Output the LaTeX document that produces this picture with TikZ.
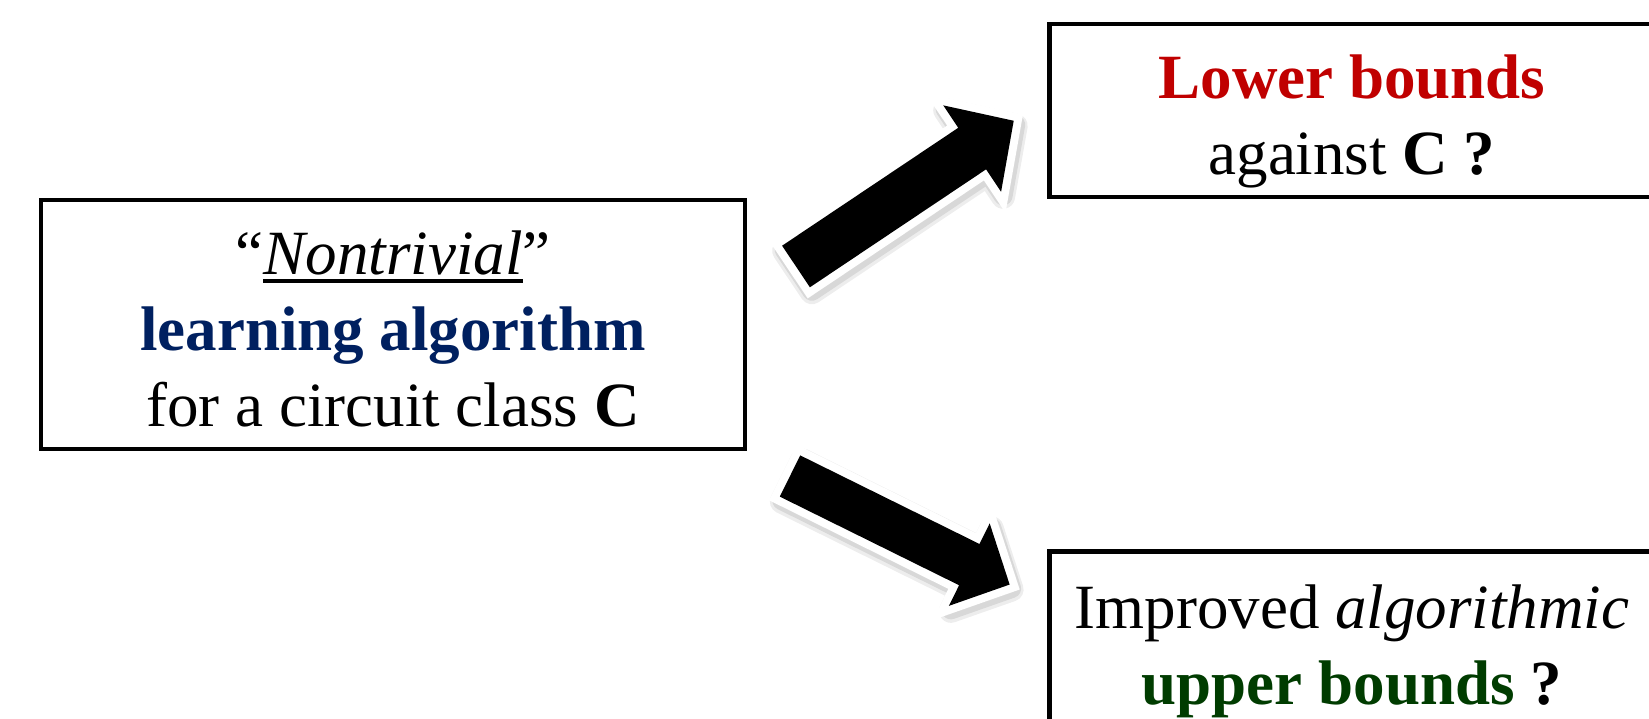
\documentclass[tikz,border=0pt]{standalone}
\usepackage{fontspec}
\setmainfont{Liberation Serif}
\usepackage{tikz}
\definecolor{lowred}{RGB}{192,0,0}
\definecolor{learnblue}{RGB}{0,32,96}
\definecolor{uppergreen}{RGB}{0,60,0}
\newcommand{\underword}[1]{\setbox0=\hbox{#1}\rlap{\rule[-9pt]{\wd0}{4pt}}\box0}

\begin{document}
\begin{tikzpicture}[x=1pt,y=-1pt,
  panel/.style={draw=black, line width=4.5pt, fill=white, inner sep=0pt},
  words/.style={align=center, inner sep=0pt, font=\fontsize{63}{76}\selectfont},
  blockarrow/.style={preaction={draw=black, draw opacity=.07, line width=24pt, line join=round,
      transform canvas={xshift=2pt,yshift=-5pt}},
    preaction={draw=black, draw opacity=.09, line width=19pt, line join=round,
      transform canvas={xshift=2pt,yshift=-4pt}},
    draw=white, line width=16pt, line join=miter, fill=black, postaction={fill=black}}]
\useasboundingbox (0,0) rectangle (1649,719);
\clip (0,0) rectangle (1649,719);
%% boxes
\node[panel, minimum width=704pt, minimum height=249pt] (learn) at (393,324.5) {};
\node[panel, minimum width=605pt, minimum height=173pt] (lower) at (1352,110.5) {};
\node[panel, minimum width=605pt, minimum height=173pt] (upper) at (1352,638) {};
%% texts
\node[words] (learntext) at (393,328.5) {“\underword{\textit{Nontrivial}}”\\
  \textcolor{learnblue}{\textbf{learning algorithm}}\\
  for a circuit class \textbf{C}};
\node[words] (lowertext) at (1352,121.5) {\textcolor{lowred}{\textbf{Lower bounds}}\\
  against \textbf{C ?}};
\node[words] (uppertext) at (1352,651.5) {Improved \textit{algorithmic}\\
  \textcolor{uppergreen}{\textbf{upper bounds}} \textbf{?}};
%% arrows
\begin{scope}[shift={(796,266.5)}, rotate=33.8]
\draw[blockarrow] (0,-25) -- (212,-25) -- (212,-52) -- (262,0) -- (212,52) -- (212,25) -- (0,25) -- cycle;
\end{scope}
\begin{scope}[shift={(790,476)}, rotate=-26.3]
\draw[blockarrow] (0,-23) -- (200,-23) -- (200,-46) -- (245,0) -- (200,46) -- (200,23) -- (0,23) -- cycle;
\end{scope}
\end{tikzpicture}
\end{document}
